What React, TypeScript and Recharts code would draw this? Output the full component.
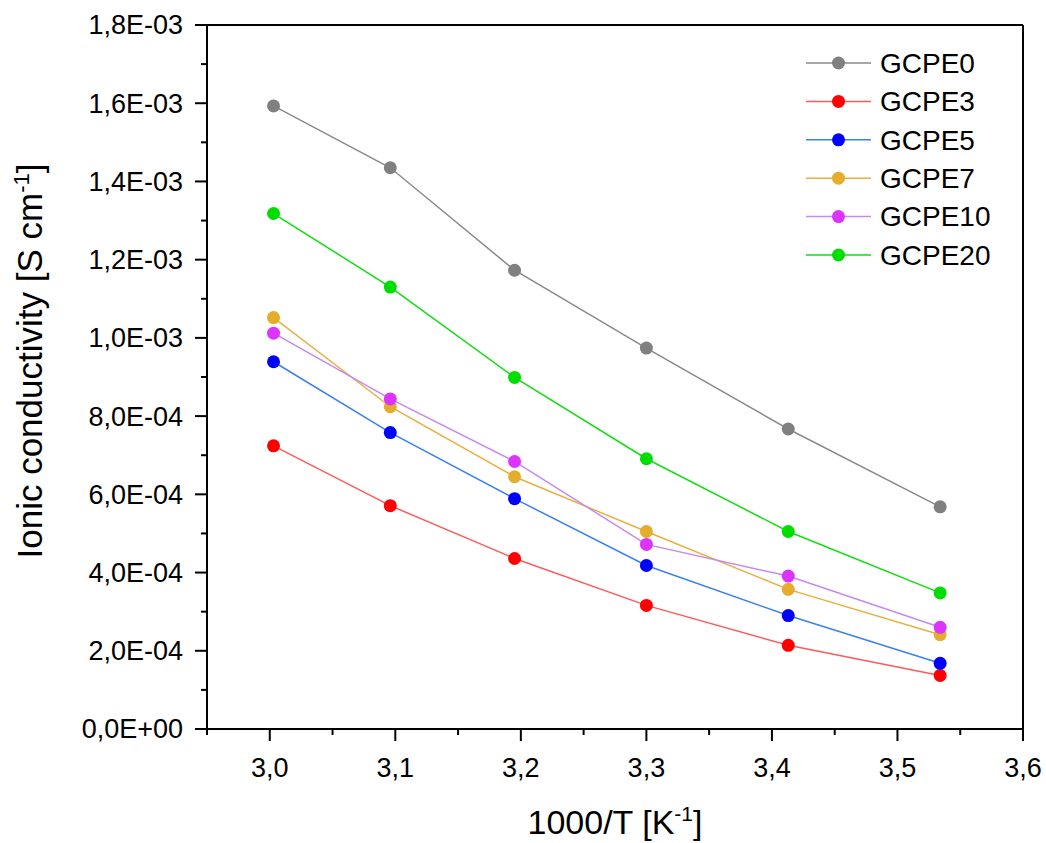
import React from 'react';
import { LineChart, Line, XAxis, YAxis, ReferenceLine, Legend } from 'recharts';

const invT = [3.003, 3.096, 3.195, 3.3, 3.413, 3.534];
const gcpe0 = [1.593e-3, 1.435e-3, 1.173e-3, 0.974e-3, 0.767e-3, 0.568e-3];
const gcpe3 = [0.724e-3, 0.571e-3, 0.436e-3, 0.316e-3, 0.214e-3, 0.137e-3];
const gcpe5 = [0.939e-3, 0.758e-3, 0.589e-3, 0.418e-3, 0.29e-3, 0.168e-3];
const gcpe7 = [1.052e-3, 0.824e-3, 0.645e-3, 0.505e-3, 0.357e-3, 0.241e-3];
const gcpe10 = [1.012e-3, 0.844e-3, 0.684e-3, 0.472e-3, 0.391e-3, 0.26e-3];
const gcpe20 = [1.318e-3, 1.13e-3, 0.899e-3, 0.691e-3, 0.505e-3, 0.348e-3];

const seriesNames = ['GCPE0', 'GCPE3', 'GCPE5', 'GCPE7', 'GCPE10', 'GCPE20'];
const seriesValues = [gcpe0, gcpe3, gcpe5, gcpe7, gcpe10, gcpe20];

const xTicks = [2.95, 3.0, 3.05, 3.1, 3.15, 3.2, 3.25, 3.3, 3.35, 3.4, 3.45, 3.5, 3.55, 3.6];
const yTicks = [0, 0.0001, 0.0002, 0.0003, 0.0004, 0.0005, 0.0006, 0.0007, 0.0008, 0.0009, 0.001, 0.0011, 0.0012, 0.0013, 0.0014, 0.0015, 0.0016, 0.0017, 0.0018];

const styles = [
  { line: '#8a8a8a', dot: '#808080' },
  { line: '#ff5a5a', dot: '#ff0000' },
  { line: '#3a80f0', dot: '#0000ff' },
  { line: '#e8b040', dot: '#e6ac2c' },
  { line: '#c48af0', dot: '#dd33ff' },
  { line: '#11dd11', dot: '#00dd00' },
];

const FONT = '"Liberation Sans", Arial, sans-serif';

const data = invT.map((x, i) => {
  const row: any = { x };
  seriesNames.forEach((n, k) => {
    row[n] = seriesValues[k][i];
  });
  return row;
});

const fmtY = (v: number) => {
  const [m, e] = v.toExponential(1).split('e');
  const n = parseInt(e, 10);
  return m.replace('.', ',') + 'E' + (n < 0 ? '-' : '+') + String(Math.abs(n)).padStart(2, '0');
};

const XTick = (props: any) => {
  const { x, y, payload } = props;
  const v = payload.value as number;
  const major = Math.round(v * 100) % 10 === 0;
  return (
    <g>
      <line x1={x} x2={x} y1={y} y2={y + (major ? 12 : 6)} stroke="#000" strokeWidth={2} />
      {major && (
        <text x={x} y={y + 48} textAnchor="middle" fontSize={27} fontFamily={FONT} fill="#000">
          {v.toFixed(1).replace('.', ',')}
        </text>
      )}
    </g>
  );
};

const YTick = (props: any) => {
  const { x, y, payload } = props;
  const v = payload.value as number;
  const major = Math.round(v * 1e4) % 2 === 0;
  return (
    <g>
      <line x1={x} x2={x - (major ? 12 : 6)} y1={y} y2={y} stroke="#000" strokeWidth={2} />
      {major && (
        <text x={x - 24} y={y} dy="0.35em" textAnchor="end" fontSize={27} fontFamily={FONT} fill="#000">
          {fmtY(v)}
        </text>
      )}
    </g>
  );
};

const XTitle = (props: any) => {
  const vb = props.viewBox || {};
  const cx = vb.x + vb.width / 2;
  return (
    <text x={cx} y={834} textAnchor="middle" fontSize={34} fontFamily={FONT} fill="#000">
      1000/T [K<tspan dy={-13} fontSize={21}>-1</tspan>
      <tspan dy={13}>]</tspan>
    </text>
  );
};

const YTitle = (props: any) => {
  const vb = props.viewBox || {};
  const cy = vb.y + vb.height / 2 - 16;
  const bx = 42;
  return (
    <text
      x={bx}
      y={cy}
      transform={`rotate(-90, ${bx}, ${cy})`}
      textAnchor="middle"
      fontSize={35}
      fontFamily={FONT}
      fill="#000"
    >
      Ionic conductivity [S cm<tspan dy={-13} fontSize={22}>-1</tspan>
      <tspan dy={13}>]</tspan>
    </text>
  );
};

const LegendContent = () => {
  const rowH = 38.4;
  return (
    <svg width={230} height={rowH * seriesNames.length + 10} style={{ display: 'block' }}>
      {seriesNames.map((n, i) => {
        const cy = 20 + i * rowH;
        return (
          <g key={n}>
            <line x1={0} x2={65} y1={cy} y2={cy} stroke={styles[i].line} strokeWidth={1.5} />
            <circle cx={32.5} cy={cy} r={6.5} fill={styles[i].dot} />
            <text x={74} y={cy} dy="0.35em" fontSize={28} fontFamily={FONT} fill="#000">
              {n}
            </text>
          </g>
        );
      })}
    </svg>
  );
};

export default function App() {
  return (
    <div style={{ position: 'absolute', left: 0, top: 0, width: 1046, height: 843, background: '#fff' }}>
      <LineChart width={1046} height={843} data={data} margin={{ top: 25, right: 23, bottom: 0, left: 0 }}>
        <XAxis
          dataKey="x"
          type="number"
          domain={[2.95, 3.6]}
          ticks={xTicks}
          interval={0}
          allowDataOverflow
          height={114}
          tickSize={0}
          tickMargin={0}
          tickLine={false}
          tick={<XTick />}
          axisLine={{ stroke: '#000', strokeWidth: 2 }}
          label={<XTitle />}
        />
        <YAxis
          type="number"
          domain={[0, 0.0018]}
          ticks={yTicks}
          interval={0}
          allowDataOverflow
          width={207}
          tickSize={0}
          tickMargin={0}
          tickLine={false}
          tick={<YTick />}
          axisLine={{ stroke: '#000', strokeWidth: 2 }}
          label={<YTitle />}
        />
        <ReferenceLine y={0.0018} stroke="#000" strokeWidth={2} />
        <ReferenceLine x={3.6} stroke="#000" strokeWidth={2} />
        <Legend
          layout="vertical"
          align="center"
          verticalAlign="middle"
          content={<LegendContent />}
          wrapperStyle={{ left: 806, top: 43, width: 230, height: 250 }}
        />
        {seriesNames.map((n, i) => (
          <Line
            key={n}
            dataKey={n}
            name={n}
            type="linear"
            stroke={styles[i].line}
            strokeWidth={1.5}
            dot={{ r: 6.5, fill: styles[i].dot, stroke: styles[i].dot, strokeWidth: 0 }}
            activeDot={false}
            isAnimationActive={false}
          />
        ))}
      </LineChart>
    </div>
  );
}
